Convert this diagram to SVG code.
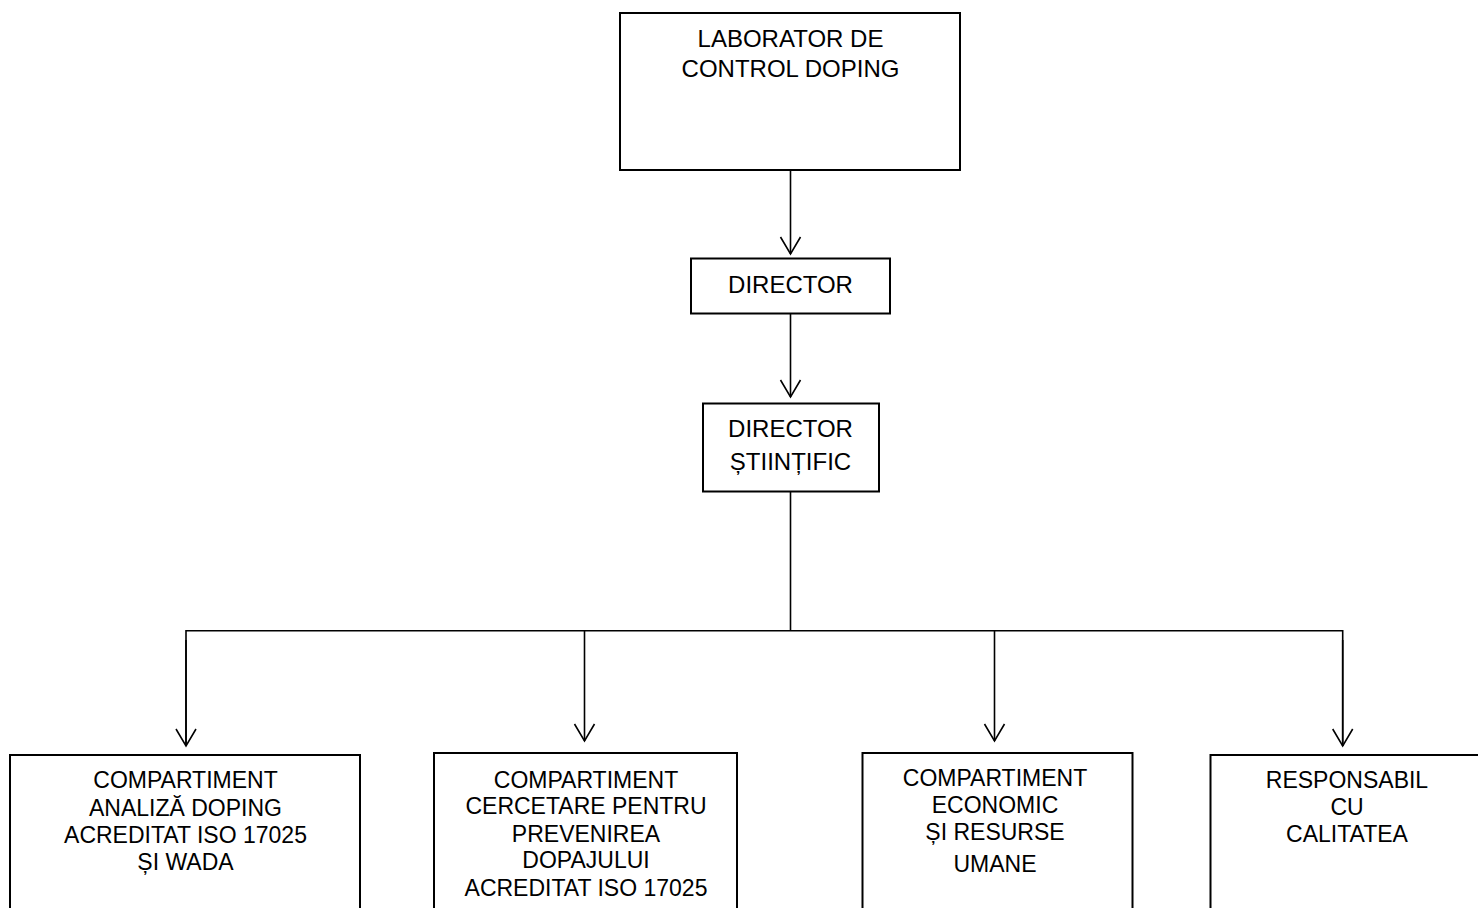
<svg xmlns="http://www.w3.org/2000/svg" width="1478" height="908" viewBox="0 0 1478 908">
<style>
.box{fill:#fff;stroke:#000;stroke-width:2}
.t{font-family:"Liberation Sans",Arial,sans-serif;font-size:24px;fill:#000;text-anchor:middle}
.s{font-size:23px}
.c{fill:none;stroke:#000;stroke-width:1.6}
</style>
<defs>
<marker id="arr" markerUnits="userSpaceOnUse" orient="auto" refX="0" refY="0" markerWidth="20" markerHeight="22" viewBox="-18 -11 20 22" overflow="visible">
<path d="M-17,-10 L0,0 L-17,10" fill="none" stroke="#000" stroke-width="1.6"/>
</marker>
</defs>
<g id="connectors">
<line class="c" x1="790.5" y1="170" x2="790.5" y2="254" marker-end="url(#arr)"/>
<line class="c" x1="790.5" y1="313" x2="790.5" y2="397" marker-end="url(#arr)"/>
<line class="c" x1="790.5" y1="492" x2="790.5" y2="630"/>
<polyline class="c" points="186,746 186,630.7 1342.7,630.7 1342.7,746" stroke-width="2"/>
<line class="c" x1="186" y1="640" x2="186" y2="746" marker-end="url(#arr)"/>
<line class="c" x1="584.5" y1="630.7" x2="584.5" y2="741" marker-end="url(#arr)"/>
<line class="c" x1="994.5" y1="630.7" x2="994.5" y2="741" marker-end="url(#arr)"/>
<line class="c" x1="1342.7" y1="640" x2="1342.7" y2="746" marker-end="url(#arr)"/>
</g>
<g id="lab">
<rect class="box" x="620" y="13" width="340" height="157"/>
<text class="t" x="790.5" y="47">LABORATOR DE</text>
<text class="t" x="790.5" y="77">CONTROL DOPING</text>
</g>
<g id="director">
<rect class="box" x="691" y="258.5" width="199" height="55"/>
<text class="t" x="790.5" y="293">DIRECTOR</text>
</g>
<g id="director-stiintific">
<rect class="box" x="703" y="403.5" width="176" height="88"/>
<text class="t" x="790.5" y="437">DIRECTOR</text>
<text class="t" x="790.5" y="470">ȘTIINȚIFIC</text>
</g>
<g id="analiza">
<rect class="box" x="10" y="755" width="350" height="170"/>
<text class="t s" x="185.5" y="788">COMPARTIMENT</text>
<text class="t s" x="185.5" y="816">ANALIZĂ DOPING</text>
<text class="t s" x="185.5" y="843">ACREDITAT ISO 17025</text>
<text class="t s" x="185.5" y="870">ȘI WADA</text>
</g>
<g id="cercetare">
<rect class="box" x="434" y="753" width="303" height="170"/>
<text class="t s" x="586" y="788">COMPARTIMENT</text>
<text class="t s" x="586" y="814">CERCETARE PENTRU</text>
<text class="t s" x="586" y="842">PREVENIREA</text>
<text class="t s" x="586" y="868">DOPAJULUI</text>
<text class="t s" x="586" y="896">ACREDITAT ISO 17025</text>
</g>
<g id="economic">
<rect class="box" x="862.5" y="753" width="270" height="170"/>
<text class="t s" x="995" y="786">COMPARTIMENT</text>
<text class="t s" x="995" y="813">ECONOMIC</text>
<text class="t s" x="995" y="840">ȘI RESURSE</text>
<text class="t s" x="995" y="872">UMANE</text>
</g>
<g id="calitate">
<rect class="box" x="1210.5" y="755" width="280" height="170"/>
<text class="t s" x="1347" y="788">RESPONSABIL</text>
<text class="t s" x="1347" y="815">CU</text>
<text class="t s" x="1347" y="842">CALITATEA</text>
</g>
</svg>
